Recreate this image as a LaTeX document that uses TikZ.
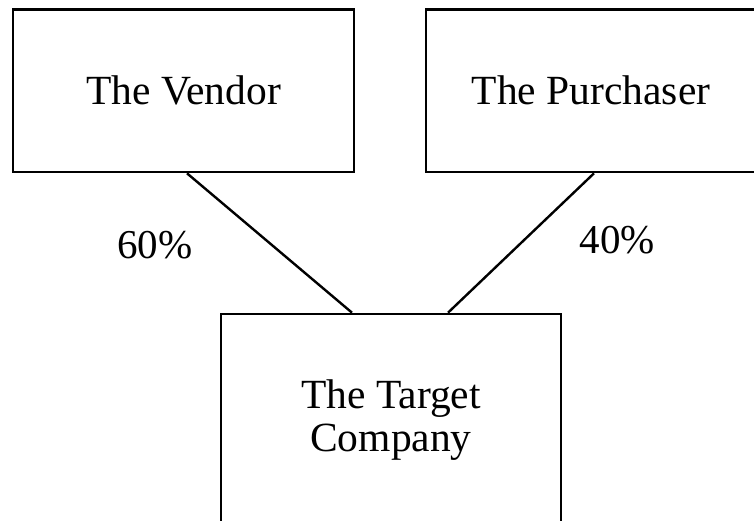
\documentclass[tikz,border=0pt]{standalone}
\usepackage{fontspec}
\setmainfont{Liberation Serif}

\begin{document}
\begin{tikzpicture}[x=1pt, y=-1pt,
    party/.style={draw, line width=2.6pt, inner sep=0pt, align=center,
	font=\fontsize{41.5}{43}\selectfont},
    share/.style={font=\fontsize{41}{48}\selectfont}]
    \useasboundingbox (0, 0) rectangle (754, 521);
    \node[party, minimum width=341pt, minimum height=162.5pt] (vendor)
	at (183.5, 90.75) {The Vendor};
    \node[party, minimum width=330pt, minimum height=162.5pt] (purchaser)
	at (591, 90.75) {The Purchaser};
    \node[party, minimum width=340pt, minimum height=212pt] (target)
	at (391, 420) {The Target\\Company};
    \draw[line width=2.4pt] ([xshift=3.5pt]vendor.south) -- ([xshift=-39pt]target.north);
    \draw[line width=2.4pt] ([xshift=3pt]purchaser.south) -- ([xshift=57pt]target.north);
    \node[share] (vendorshare) at (155, 245) {60\%};
    \node[share] (purchasershare) at (617.5, 240.5) {40\%};
\end{tikzpicture}
\end{document}
